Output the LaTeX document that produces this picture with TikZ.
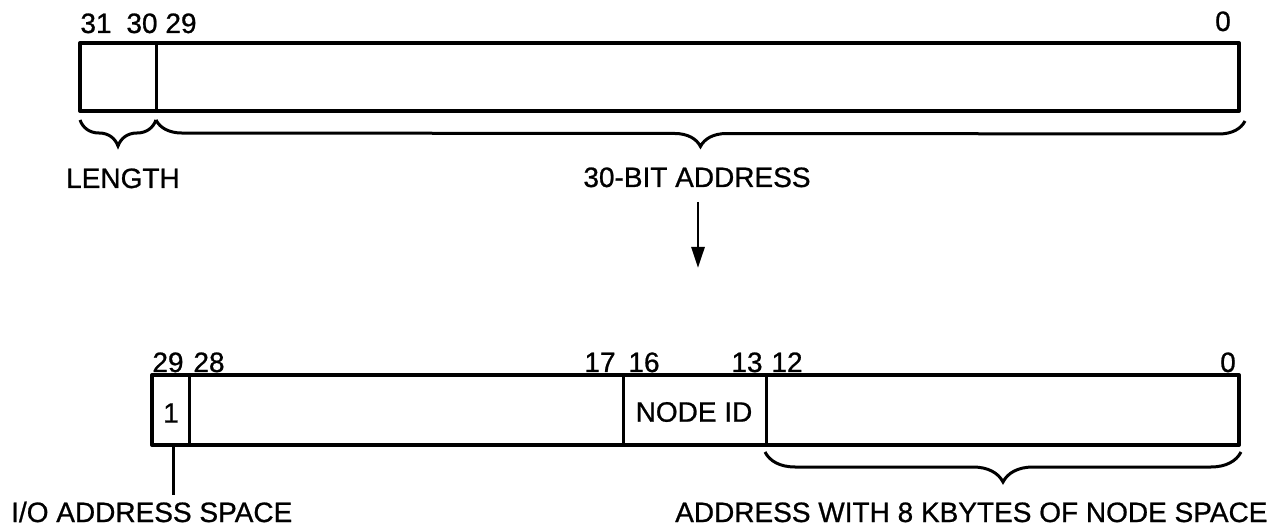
\documentclass[tikz,border=0pt]{standalone}
\usepackage{fontspec}
\setmainfont[FakeBold=0.8]{Liberation Sans}
\usetikzlibrary{decorations.pathreplacing,arrows.meta}
\begin{document}
\begin{tikzpicture}[x=1pt,y=1pt,
  lbl/.style={font=\fontsize{28}{30}\selectfont, inner sep=0pt, anchor=base},
  lblw/.style={font=\fontsize{28}{30}\selectfont, inner sep=0pt, anchor=base west},
  frame/.style={line width=4pt, line join=round},
  divider/.style={line width=3pt},
  bracebig/.style={line width=3pt, decorate, decoration={brace, mirror, amplitude=#1}},
  lead/.style={line width=3pt},
  flow/.style={line width=2.8pt, -{Triangle[length=21pt,width=13pt]}}]
\useasboundingbox (0,0) rectangle (1283,-529);

% ---------- top word ----------
\coordinate (t1) at (80,-43);
\coordinate (t2) at (1239,-111);
\draw[frame] (t1) rectangle (t2);
\coordinate (td1) at (156,-43);
\coordinate (td2) at (156,-111);
\draw[divider] (td1) -- (td2);

\node[lbl] (b31) at (96,-33) {31};
\node[lbl] (b30) at (142,-33) {30};
\node[lbl] (b29) at (181,-33) {29};
\node[lbl] (b0t) at (1223,-31) {0};

\coordinate (br1a) at (80,-120);
\coordinate (br1b) at (156,-120);
\coordinate (br2a) at (156,-120);
\coordinate (br2b) at (1245,-121);
\draw[bracebig=26pt] (br1a) -- (br1b);
\draw[bracebig=26pt] (br2a) -- (br2b);

\node[lblw] (len) at (66,-188) {LENGTH};
\node[lbl] (addr30) at (697,-187) {30-BIT ADDRESS};

\coordinate (arrS) at (698,-202);
\coordinate (arrE) at (698,-268);
\draw[flow] (arrS) -- (arrE);

% ---------- bottom word ----------
\coordinate (u1) at (152,-375);
\coordinate (u2) at (1239,-445);
\draw[frame] (u1) rectangle (u2);
\foreach \xx in {189,623,766}{
  \draw[divider] (\xx,-375) -- (\xx,-445);
}

\node[lbl] (c29) at (168,-372) {29};
\node[lbl] (c28) at (209,-372) {28};
\node[lbl] (c17) at (600,-372) {17};
\node[lbl] (c16) at (644,-372) {16};
\node[lbl] (c13) at (747,-372) {13};
\node[lbl] (c12) at (787,-372) {12};
\node[lbl] (c0) at (1228,-372) {0};

\node[font=\fontsize{28}{30}\selectfont, inner sep=0pt] (one) at (171,-413) {1};
\node[font=\fontsize{28}{30}\selectfont, inner sep=0pt] (nodeid) at (694,-412) {NODE ID};

\coordinate (ioA) at (173,-447);
\coordinate (ioB) at (173,-495);
\draw[lead] (ioA) -- (ioB);
\node[lblw] (io) at (11,-522) {I/O ADDRESS SPACE};

\coordinate (br3a) at (765,-452);
\coordinate (br3b) at (1241,-452);
\draw[bracebig=30pt] (br3a) -- (br3b);
\node[lblw] (nodespace) at (675,-522) {ADDRESS WITH 8 KBYTES OF NODE SPACE};
\end{tikzpicture}
\end{document}
